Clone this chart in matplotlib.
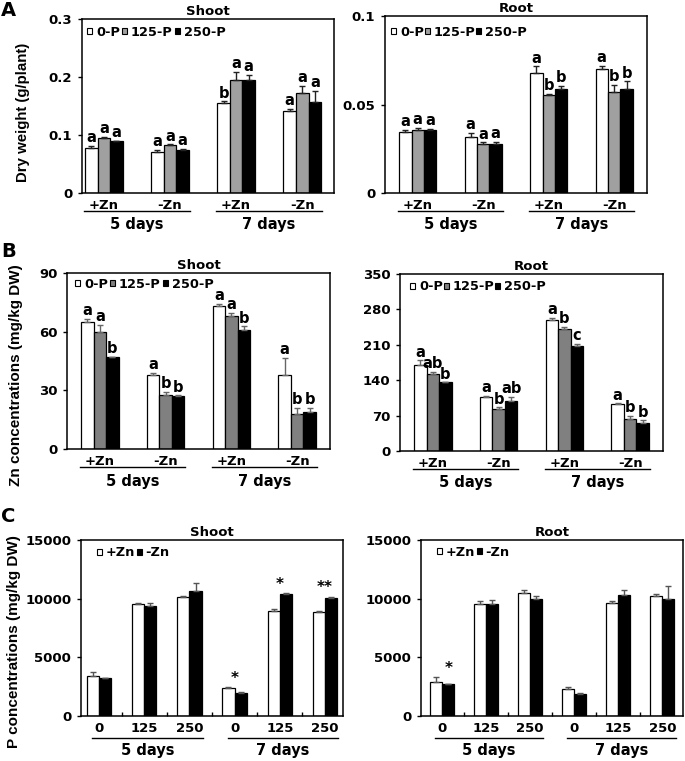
import matplotlib
matplotlib.use('Agg')
import matplotlib.pyplot as plt
import numpy as np
from matplotlib.transforms import blended_transform_factory, ScaledTranslation
from matplotlib.patches import Patch

plt.rcParams['font.family'] = ['DejaVu Sans']
plt.rcParams['font.weight'] = 'bold'
plt.rcParams['font.size'] = 10
plt.rcParams['axes.labelweight'] = 'bold'
plt.rcParams['axes.titleweight'] = 'bold'

# ---------------- data ----------------
zn_groups = ['+Zn', '-Zn', '+Zn', '-Zn']
day_labels = ['5 days', '7 days']
p_series = ['0-P', '125-P', '250-P']
p_levels = ['0', '125', '250', '0', '125', '250']
zn_series = ['+Zn', '-Zn']

# A: dry weight (g/plant)
dw_shoot_0p = [0.077, 0.070, 0.156, 0.141]
dw_shoot_125p = [0.095, 0.082, 0.195, 0.172]
dw_shoot_250p = [0.089, 0.075, 0.195, 0.157]
dw_shoot_err_0p = [0.0046, 0.004, 0.002, 0.0046]
dw_shoot_err_125p = [0.002, 0.002, 0.014, 0.0126]
dw_shoot_err_250p = [0.0015, 0.0015, 0.0086, 0.0195]
dw_shoot_let_0p = ['a', 'a', 'b', 'a']
dw_shoot_let_125p = ['a', 'a', 'a', 'a']
dw_shoot_let_250p = ['a', 'a', 'a', 'a']

dw_root_0p = [0.0344, 0.0316, 0.068, 0.070]
dw_root_125p = [0.0357, 0.0278, 0.0555, 0.0573]
dw_root_250p = [0.0357, 0.0278, 0.0587, 0.059]
dw_root_err_0p = [0.0013, 0.0023, 0.0036, 0.0017]
dw_root_err_125p = [0.001, 0.0008, 0.0006, 0.0038]
dw_root_err_250p = [0.0006, 0.001, 0.0019, 0.0041]
dw_root_let_0p = ['a', 'a', 'a', 'a']
dw_root_let_125p = ['a', 'a', 'b', 'b']
dw_root_let_250p = ['a', 'a', 'b', 'b']

# B: Zn concentrations (mg/kg DW)
zn_shoot_0p = [64.8, 38.0, 73.0, 37.8]
zn_shoot_125p = [59.8, 27.8, 67.8, 17.9]
zn_shoot_250p = [47.0, 27.1, 61.0, 18.9]
zn_shoot_err_0p = [1.7, 0.85, 1.2, 8.7]
zn_shoot_err_125p = [3.7, 1.4, 2.0, 3.1]
zn_shoot_err_250p = [0.3, 0.3, 1.7, 2.0]
zn_shoot_let_0p = ['a', 'a', 'a', 'a']
zn_shoot_let_125p = ['a', 'b', 'a', 'b']
zn_shoot_let_250p = ['b', 'b', 'b', 'b']

zn_root_0p = [170.4, 106.3, 258.9, 92.5]
zn_root_125p = [151.9, 83.9, 241.0, 64.0]
zn_root_250p = [136.0, 99.7, 208.0, 55.5]
zn_root_err_0p = [8.6, 2.6, 4.0, 2.0]
zn_root_err_125p = [5.3, 2.6, 4.0, 6.0]
zn_root_err_250p = [0.0, 7.9, 4.0, 5.3]
zn_root_let_0p = ['a', 'a', 'a', 'a']
zn_root_let_125p = ['ab', 'b', 'b', 'b']
zn_root_let_250p = ['b', 'ab', 'c', 'b']

# C: P concentrations (mg/kg DW)
p_shoot_pzn = [3437, 9545, 10114, 2358, 8949, 8835]
p_shoot_mzn = [3210, 9375, 10653, 1932, 10369, 10028]
p_shoot_err_pzn = [340, 114, 114, 85, 170, 142]
p_shoot_err_mzn = [57, 227, 710, 142, 114, 142]
p_shoot_stars = ['', '', '', '*', '*', '**']

p_root_pzn = [2926, 9574, 10483, 2301, 9659, 10227]
p_root_mzn = [2755, 9574, 10000, 1847, 10313, 9943]
p_root_err_pzn = [400, 230, 230, 200, 110, 200]
p_root_err_mzn = [0, 310, 200, 110, 400, 1136]
p_root_stars = ['*', '', '', '', '', '']

# ---------------- figure ----------------
W, H = 685, 761
fig = plt.figure(figsize=(W / 100, H / 100), dpi=100)

YLAB_FONT = ['Liberation Sans', 'DejaVu Sans']


def add_ax(l, r, t, b):
    return fig.add_axes([l / W, 1 - b / H, (r - l) / W, (b - t) / H])


def style_ax(ax, ylim, yticks, yticklabels):
    ax.set_ylim(*ylim)
    ax.set_yticks(yticks)
    ax.set_yticklabels(yticklabels)
    for s in ax.spines.values():
        s.set_linewidth(1.1)
    ax.tick_params(axis='y', direction='out', length=3, width=1, pad=4, labelsize=9.5)
    ax.tick_params(axis='x', length=0, pad=4, labelsize=9.5)


def group_labels(ax, spans, labels, line_px, text_px):
    base = blended_transform_factory(ax.transData, ax.transAxes)
    tl = base + ScaledTranslation(0, -line_px / 100, fig.dpi_scale_trans)
    tt = base + ScaledTranslation(0, -text_px / 100, fig.dpi_scale_trans)
    for (x0, x1), lab in zip(spans, labels):
        ax.plot([x0, x1], [0, 0], transform=tl, color='black', lw=1, clip_on=False)
        ax.text((x0 + x1) / 2, 0, lab, transform=tt, ha='center', va='center', fontsize=10.5)


def add_legend(ax, labels, colors, dx, dy, colspace, size=9.3):
    l, b, w, h = ax.get_position().bounds
    axw, axh = w * W, h * H
    handles = [Patch(facecolor=c, edgecolor='black', linewidth=0.8) for c in colors]
    ax.legend(handles, labels, loc='center left', bbox_to_anchor=(dx / axw, 1 - dy / axh),
              ncol=len(labels), frameon=False, borderpad=0, borderaxespad=0,
              handlelength=0.4, handleheight=0.4, handletextpad=0.3,
              columnspacing=colspace, prop={'size': size, 'weight': 'bold'})


def three_bar_panel(ax, series, errs, letters, colors, ecolor, xlim):
    x = np.arange(len(zn_groups))
    w = 0.19
    for i, (vals, e, lets, c) in enumerate(zip(series, errs, letters, colors)):
        xs = x + (i - 1) * w
        ax.bar(xs, vals, w, color=c, edgecolor='black', linewidth=0.9, zorder=2)
        ax.errorbar(xs, vals, yerr=[np.zeros(len(e)), e], fmt='none', ecolor=ecolor,
                    elinewidth=1, capsize=2, capthick=1, zorder=3)
        for xi, v, ei, lt in zip(xs, vals, e, lets):
            ax.annotate(lt, (xi, v + ei), xytext=(0, 0.5), textcoords='offset points',
                        ha='center', va='bottom', fontsize=10.5)
    ax.set_xlim(*xlim)
    ax.set_xticks(x)
    ax.set_xticklabels(zn_groups)
    group_labels(ax, [(-0.3, 1.3), (1.7, 3.3)], day_labels, 18, 32)


def two_bar_panel(ax, series, errs, stars, star_dx, xlim):
    x = np.arange(len(p_levels))
    w = 0.27
    colors = ['white', 'black']
    for i, (vals, e, c) in enumerate(zip(series, errs, colors)):
        xs = x + (i - 0.5) * w
        ax.bar(xs, vals, w, color=c, edgecolor='black', linewidth=0.9, zorder=2)
        ax.errorbar(xs, vals, yerr=[np.zeros(len(e)), e], fmt='none', ecolor='#555555',
                    elinewidth=1, capsize=2, capthick=1, zorder=3)
    tops = np.maximum(np.array(series[0]) + np.array(errs[0]),
                      np.array(series[1]) + np.array(errs[1]))
    for xi, t, s in zip(x, tops, stars):
        if s:
            ax.annotate(s, (xi + star_dx, t), xytext=(0, 1), textcoords='offset points',
                        ha='center', va='bottom', fontsize=11)
    ax.set_xlim(*xlim)
    ax.set_xticks(x)
    ax.set_xticklabels(p_levels)
    ax.set_xticks(np.arange(len(p_levels) - 1) + 0.5, minor=True)
    ax.tick_params(axis='x', which='minor', direction='in', length=3, width=1)
    group_labels(ax, [(-0.15, 2.3), (2.85, 5.3)], day_labels, 22, 35)


# ---- A ----
colA = ['white', '#a0a0a0', 'black']
axA1 = add_ax(82, 334, 19, 193)
three_bar_panel(axA1, [dw_shoot_0p, dw_shoot_125p, dw_shoot_250p],
                [dw_shoot_err_0p, dw_shoot_err_125p, dw_shoot_err_250p],
                [dw_shoot_let_0p, dw_shoot_let_125p, dw_shoot_let_250p],
                colA, '#222222', (-0.33, 3.48))
style_ax(axA1, (0, 0.3), [0, 0.1, 0.2, 0.3], ['0', '0.1', '0.2', '0.3'])
axA1.set_title('Shoot', fontsize=9.5, pad=3)
add_legend(axA1, p_series, colA, 5, 13, 0.15)

axA2 = add_ax(385, 647, 16, 193)
three_bar_panel(axA2, [dw_root_0p, dw_root_125p, dw_root_250p],
                [dw_root_err_0p, dw_root_err_125p, dw_root_err_250p],
                [dw_root_let_0p, dw_root_let_125p, dw_root_let_250p],
                colA, '#222222', (-0.5, 3.5))
style_ax(axA2, (0, 0.1), [0, 0.05, 0.1], ['0', '0.05', '0.1'])
axA2.set_title('Root', fontsize=9.5, pad=3)
add_legend(axA2, p_series, colA, 6, 16, 0.05)

fig.text(23 / W, 1 - 112 / H, 'Dry weight (g/plant)', rotation=90, ha='center', va='center',
         fontsize=10.8, family=YLAB_FONT)
fig.text(1 / W, 1 - 1 / H, 'A', ha='left', va='top', fontsize=14)

# ---- B ----
colB = ['white', '#808080', 'black']
axB1 = add_ax(67, 330, 273, 449)
three_bar_panel(axB1, [zn_shoot_0p, zn_shoot_125p, zn_shoot_250p],
                [zn_shoot_err_0p, zn_shoot_err_125p, zn_shoot_err_250p],
                [zn_shoot_let_0p, zn_shoot_let_125p, zn_shoot_let_250p],
                colB, '#666666', (-0.5, 3.5))
style_ax(axB1, (0, 90), [0, 30, 60, 90], ['0', '30', '60', '90'])
axB1.set_title('Shoot', fontsize=9.5, pad=3)
add_legend(axB1, p_series, colB, 8, 11, 0.15)

axB2 = add_ax(400, 663, 274, 451)
three_bar_panel(axB2, [zn_root_0p, zn_root_125p, zn_root_250p],
                [zn_root_err_0p, zn_root_err_125p, zn_root_err_250p],
                [zn_root_let_0p, zn_root_let_125p, zn_root_let_250p],
                colB, '#666666', (-0.5, 3.5))
style_ax(axB2, (0, 350), [0, 70, 140, 210, 280, 350], ['0', '70', '140', '210', '280', '350'])
axB2.set_title('Root', fontsize=9.5, pad=3)
add_legend(axB2, p_series, colB, 10, 13, 0.05)

fig.text(16 / W, 1 - 375 / H, 'Zn concentrations (mg/kg DW)', rotation=90, ha='center', va='center',
         fontsize=11, family=YLAB_FONT)
fig.text(1 / W, 1 - 242 / H, 'B', ha='left', va='top', fontsize=14)

# ---- C ----
axC1 = add_ax(81, 343, 540, 716)
two_bar_panel(axC1, [p_shoot_pzn, p_shoot_mzn], [p_shoot_err_pzn, p_shoot_err_mzn],
              p_shoot_stars, 0.0, (-0.4, 5.4))
style_ax(axC1, (0, 15000), [0, 5000, 10000, 15000], ['0', '5000', '10000', '15000'])
axC1.set_title('Shoot', fontsize=9.5, pad=3)
add_legend(axC1, zn_series, ['white', 'black'], 16, 13, 0.1, size=9.3)

axC2 = add_ax(421, 683, 540, 716)
two_bar_panel(axC2, [p_root_pzn, p_root_mzn], [p_root_err_pzn, p_root_err_mzn],
              p_root_stars, 0.15, (-0.47, 5.47))
style_ax(axC2, (0, 15000), [0, 5000, 10000, 15000], ['0', '5000', '10000', '15000'])
axC2.set_title('Root', fontsize=9.5, pad=3)
add_legend(axC2, zn_series, ['white', 'black'], 16, 12, 0.1, size=9.3)

fig.text(14 / W, 1 - 642 / H, 'P concentrations (mg/kg DW)', rotation=90, ha='center', va='center',
         fontsize=11, family=YLAB_FONT)
fig.text(1 / W, 1 - 507 / H, 'C', ha='left', va='top', fontsize=14)

fig.savefig('out.png', dpi=100)
